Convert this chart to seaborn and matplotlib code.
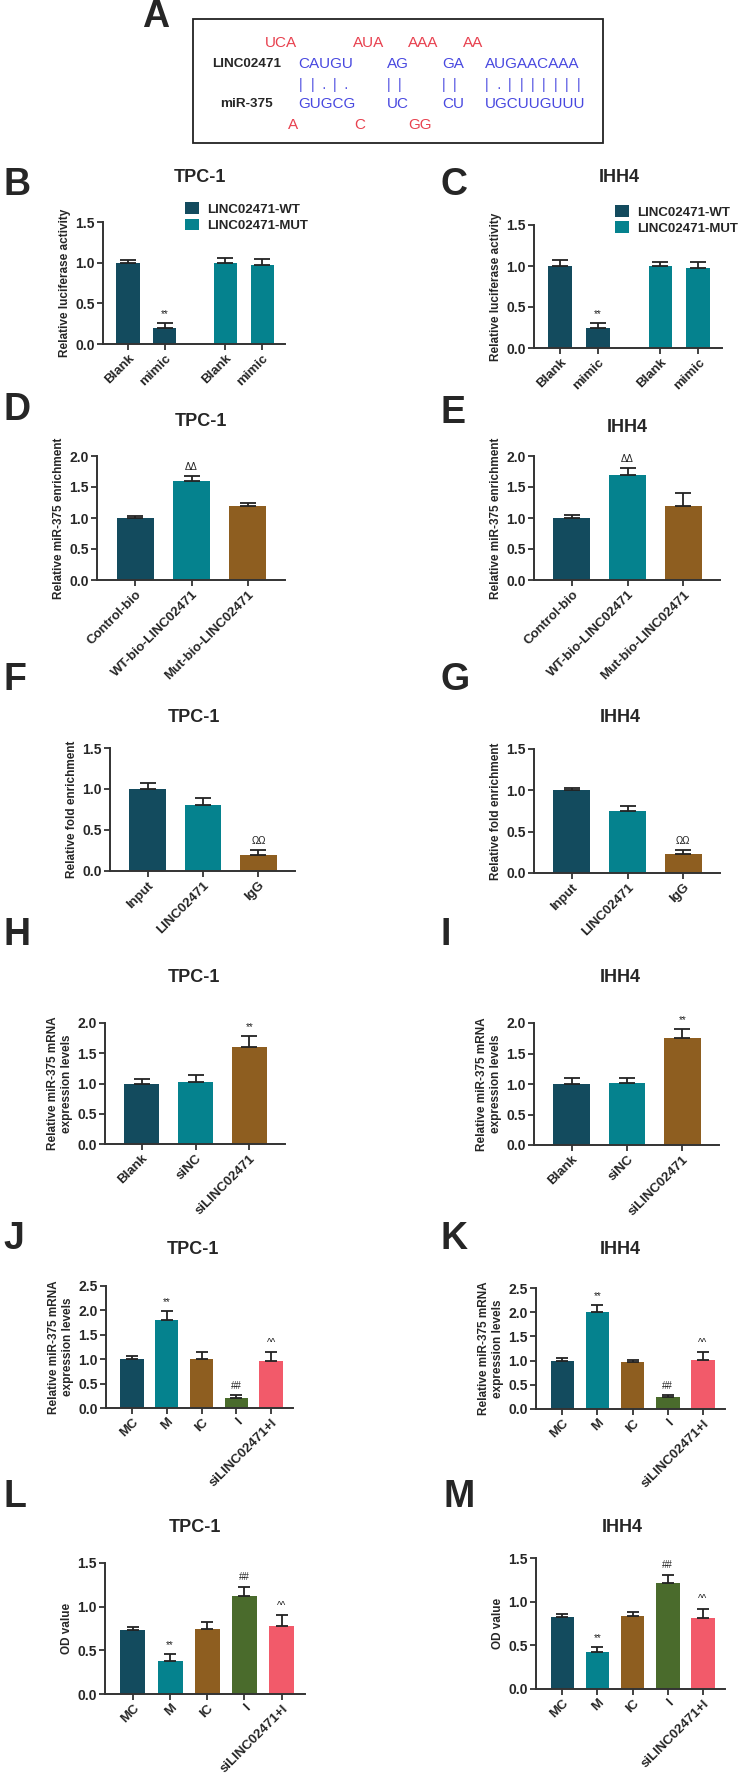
import numpy as np
import pandas as pd
import matplotlib
matplotlib.use('Agg')
import matplotlib.pyplot as plt
import seaborn as sns
from matplotlib.patches import Rectangle
from matplotlib.ticker import FormatStrFormatter

sns.set_theme(style='ticks')
plt.rcParams['font.family'] = ['Liberation Sans', 'DejaVu Sans']
plt.rcParams['axes.edgecolor'] = '#333333'

W, H = 743, 1784

# colours
DARK = '#134b5e'
TEAL = '#05828e'
BROWN = '#8e5e20'
GREEN = '#4a6b2c'
PINK = '#f25a6a'

# panel A: LINC02471 / miR-375 pairing
loops_top = ['UCA', 'AUA', 'AAA', 'AA']
stem_top = ['CAUGU', 'AG', 'GA', 'AUGAACAAA']
pairs = ['||.|.', '||', '||', '|.|||||||']
stem_bot = ['GUGCG', 'UC', 'CU', 'UGCUUGUUU']
loops_bot = ['A', 'C', 'GG']

# B/C luciferase
luc_groups = ['LINC02471-WT', 'LINC02471-WT', 'LINC02471-MUT', 'LINC02471-MUT']
luc_labels = ['Blank', 'mimic', 'Blank', 'mimic']
luc_tpc = [1.0, 0.2, 1.0, 0.97]
luc_tpc_err = [0.03, 0.06, 0.06, 0.08]
luc_ihh = [1.0, 0.25, 1.0, 0.97]
luc_ihh_err = [0.07, 0.05, 0.05, 0.08]
luc_marks = ['', '**', '', '']

# D/E pull-down
pull_labels = ['Control-bio', 'WT-bio-LINC02471', 'Mut-bio-LINC02471']
pull_tpc = [1.0, 1.6, 1.2]
pull_tpc_err = [0.04, 0.08, 0.04]
pull_ihh = [1.0, 1.7, 1.2]
pull_ihh_err = [0.05, 0.1, 0.2]
pull_marks = ['', 'ΔΔ', '']

# F/G RIP
rip_labels = ['Input', 'LINC02471', 'IgG']
rip_tpc = [1.0, 0.8, 0.2]
rip_tpc_err = [0.07, 0.09, 0.05]
rip_ihh = [1.0, 0.75, 0.23]
rip_ihh_err = [0.03, 0.06, 0.05]
rip_marks = ['', '', 'ΩΩ']

# H/I knockdown
si_labels = ['Blank', 'siNC', 'siLINC02471']
si_tpc = [1.0, 1.02, 1.6]
si_tpc_err = [0.08, 0.12, 0.18]
si_ihh = [1.0, 1.02, 1.75]
si_ihh_err = [0.1, 0.08, 0.15]
si_marks = ['', '', '**']

# J-M rescue groups
grp_labels = ['MC', 'M', 'IC', 'I', 'siLINC02471+I']
mir_tpc = [1.0, 1.8, 1.01, 0.2, 0.97]
mir_tpc_err = [0.07, 0.18, 0.14, 0.06, 0.18]
mir_ihh = [1.0, 2.0, 0.97, 0.25, 1.01]
mir_ihh_err = [0.06, 0.15, 0.05, 0.04, 0.16]
od_tpc = [0.73, 0.38, 0.75, 1.12, 0.78]
od_tpc_err = [0.04, 0.08, 0.07, 0.11, 0.12]
od_ihh = [0.82, 0.42, 0.84, 1.21, 0.81]
od_ihh_err = [0.04, 0.06, 0.04, 0.1, 0.11]
grp_marks = ['', '**', '', '##', '^^']

fig = plt.figure(figsize=(W / 100, H / 100), dpi=100)


def fx(x):
    return x / W


def fy(y):
    return 1 - y / H


def px_axes(x0, x1, y0, y1):
    return fig.add_axes([fx(x0), fy(y1), (x1 - x0) / W, (y1 - y0) / H])


def bar_panel(ax, labels, means, errs, colors, ymax, ylabel, marks, pos=None, hue=None,
              width=0.66, xlim=(-0.68, 2.66), capsize=6, legend=False):
    if pos is None:
        pos = list(range(len(labels)))
    df = pd.DataFrame({'pos': pos, 'val': means, 'grp': hue if hue else labels})
    sns.barplot(data=df, x='pos', y='val', hue='grp', palette=colors, native_scale=True,
                dodge=False, width=width, errorbar=None, linewidth=0, saturation=1,
                legend=legend, ax=ax)
    ax.errorbar(pos, means, yerr=[np.zeros(len(errs)), errs], fmt='none', ecolor='#222222',
                elinewidth=1.3, capsize=capsize, capthick=1.3, zorder=3)
    for p, m, e, t in zip(pos, means, errs, marks):
        if t:
            ax.annotate(t, (p, m + e), xytext=(0, 3), textcoords='offset points',
                        ha='center', va='bottom', fontsize=7, color='#222222')
    ax.set_xlim(*xlim)
    ax.set_ylim(0, ymax)
    ax.set_yticks(np.arange(0, ymax + 0.01, 0.5))
    ax.yaxis.set_major_formatter(FormatStrFormatter('%.1f'))
    ax.set_xticks(pos)
    ax.set_xticklabels(labels, rotation=45, ha='right', rotation_mode='anchor',
                       fontsize=9.5, fontweight='bold')
    for t in ax.get_yticklabels():
        t.set_fontsize(10)
        t.set_fontweight('bold')
    ax.set_xlabel('')
    ax.set_ylabel(ylabel, fontsize=8.5, fontweight='bold', labelpad=3)
    sns.despine(ax=ax)
    for s in ['left', 'bottom']:
        ax.spines[s].set_linewidth(1.4)
    ax.tick_params(direction='out', length=4, width=1.3, color='#333333', pad=2)


def label(x, y, s):
    fig.text(fx(x), fy(y), s, fontsize=27, fontweight='bold', ha='left', va='center')


def title(x, y, s):
    fig.text(fx(x), fy(y), s, fontsize=13, fontweight='bold', ha='center', va='center')


# ---- panel A
label(142, 17, 'A')
fig.patches.append(Rectangle((fx(193), fy(143)), (603 - 193) / W, (143 - 19) / H,
                             transform=fig.transFigure, fill=False, edgecolor='#222222',
                             linewidth=1.3))
RED = '#e8414f'
BLUE = '#4848e0'
for s, x in zip(loops_top, [265, 353, 408, 463]):
    fig.text(fx(x), fy(43), s, color=RED, fontsize=11, ha='left', va='center')
fig.text(fx(212), fy(64), 'LINC02471', fontsize=9.7, fontweight='bold', ha='left', va='center')
fig.text(fx(220), fy(104), 'miR-375', fontsize=9.7, fontweight='bold', ha='left', va='center')
stem_x = [298, 387, 442, 485]
for s, x in zip(stem_top, stem_x):
    fig.text(fx(x), fy(64), s, color=BLUE, fontsize=11, ha='left', va='center')
for s, x in zip(stem_bot, stem_x):
    fig.text(fx(x), fy(104), s, color=BLUE, fontsize=11, ha='left', va='center')
pair_start = [301, 389, 444, 487]
pair_step = [11.2, 10.5, 10.5, 11.4]
for s, x0, st in zip(pairs, pair_start, pair_step):
    for i, ch in enumerate(s):
        if ch == '|':
            fig.text(fx(x0 + i * st), fy(85), '|', color=BLUE, fontsize=10, ha='center', va='center')
        else:
            fig.text(fx(x0 + i * st), fy(88), '·', color=BLUE, fontsize=10, ha='center', va='center')
for s, x in zip(loops_bot, [288, 354, 408]):
    fig.text(fx(x), fy(125), s, color=RED, fontsize=11, ha='left', va='center')

# ---- B / C
luc_pos = [0, 1, 2.65, 3.65]
for (x0, x1, y0, y1), vals, errs, lx, tx, ttl, lg in [
        ((103, 285, 222, 344), luc_tpc, luc_tpc_err, 3, 200, 'TPC-1', (0.45, 1.16)),
        ((534, 722, 225, 348), luc_ihh, luc_ihh_err, 440, 619, 'IHH4', (0.43, 1.16))]:
    ax = px_axes(x0, x1, y0, y1)
    bar_panel(ax, luc_labels, vals, errs, [DARK, TEAL], 1.5, 'Relative luciferase activity',
              luc_marks, pos=luc_pos, hue=luc_groups, width=0.63, xlim=(-0.68, 4.27),
              capsize=6, legend=True)
    h, l = ax.get_legend_handles_labels()
    ax.legend(h, l, loc='upper left', bbox_to_anchor=lg, frameon=False,
              prop={'weight': 'bold', 'size': 9.5}, handlelength=1.1, handleheight=1.0,
              handletextpad=0.6, labelspacing=0.2, borderaxespad=0, borderpad=0)
    label(lx, 185, 'B' if lx < 100 else 'C')
    title(tx, 177, ttl)

# ---- D / E
for (x0, x1, y0, y1), vals, errs, lx, ly, tx, ty, nm in [
        ((97, 285, 456, 580), pull_tpc, pull_tpc_err, 3, 410, 201, 422, 'D'),
        ((534, 720, 456, 580), pull_ihh, pull_ihh_err, 440, 413, 627, 427, 'E')]:
    ax = px_axes(x0, x1, y0, y1)
    bar_panel(ax, pull_labels, vals, errs, [DARK, TEAL, BROWN], 2.0,
              'Relative miR-375 enrichment', pull_marks)
    label(lx, ly, nm)
    title(tx, ty, 'TPC-1' if nm == 'D' else 'IHH4')

# ---- F / G
for (x0, x1, y0, y1), vals, errs, lx, tx, nm in [
        ((110, 295, 748, 871), rip_tpc, rip_tpc_err, 3, 194, 'F'),
        ((534, 720, 749, 873), rip_ihh, rip_ihh_err, 440, 620, 'G')]:
    ax = px_axes(x0, x1, y0, y1)
    bar_panel(ax, rip_labels, vals, errs, [DARK, TEAL, BROWN], 1.5,
              'Relative fold enrichment', rip_marks)
    label(lx, 680, nm)
    title(tx, 717, 'TPC-1' if nm == 'F' else 'IHH4')

# ---- H / I
for (x0, x1, y0, y1), vals, errs, lx, tx, nm in [
        ((105, 285, 1023, 1144), si_tpc, si_tpc_err, 3, 194, 'H'),
        ((534, 719, 1023, 1145), si_ihh, si_ihh_err, 440, 620, 'I')]:
    ax = px_axes(x0, x1, y0, y1)
    bar_panel(ax, si_labels, vals, errs, [DARK, TEAL, BROWN], 2.0,
              'Relative miR-375 mRNA\nexpression levels', si_marks)
    label(lx, 935, nm)
    title(tx, 978, 'TPC-1' if nm == 'H' else 'IHH4')

five = [DARK, TEAL, BROWN, GREEN, PINK]
# ---- J / K
for (x0, x1, y0, y1), vals, errs, lx, tx, nm in [
        ((106, 293, 1286, 1408), mir_tpc, mir_tpc_err, 3, 193, 'J'),
        ((536, 725, 1288, 1409), mir_ihh, mir_ihh_err, 440, 620, 'K')]:
    ax = px_axes(x0, x1, y0, y1)
    bar_panel(ax, grp_labels, vals, errs, five, 2.5,
              'Relative miR-375 mRNA\nexpression levels', grp_marks,
              width=0.67, xlim=(-0.75, 4.63), capsize=4.5)
    label(lx, 1239, nm)
    title(tx, 1249, 'TPC-1' if nm == 'J' else 'IHH4')

# ---- L / M
for (x0, x1, y0, y1), vals, errs, lx, tx, nm in [
        ((105, 305, 1563, 1694), od_tpc, od_tpc_err, 3, 195, 'L'),
        ((536, 725, 1558, 1689), od_ihh, od_ihh_err, 443, 622, 'M')]:
    ax = px_axes(x0, x1, y0, y1)
    bar_panel(ax, grp_labels, vals, errs, five, 1.5, 'OD value', grp_marks,
              width=0.67, xlim=(-0.75, 4.63), capsize=4.5)
    label(lx, 1497, nm)
    title(tx, 1527, 'TPC-1' if nm == 'L' else 'IHH4')

fig.savefig('out.png', dpi=100)
